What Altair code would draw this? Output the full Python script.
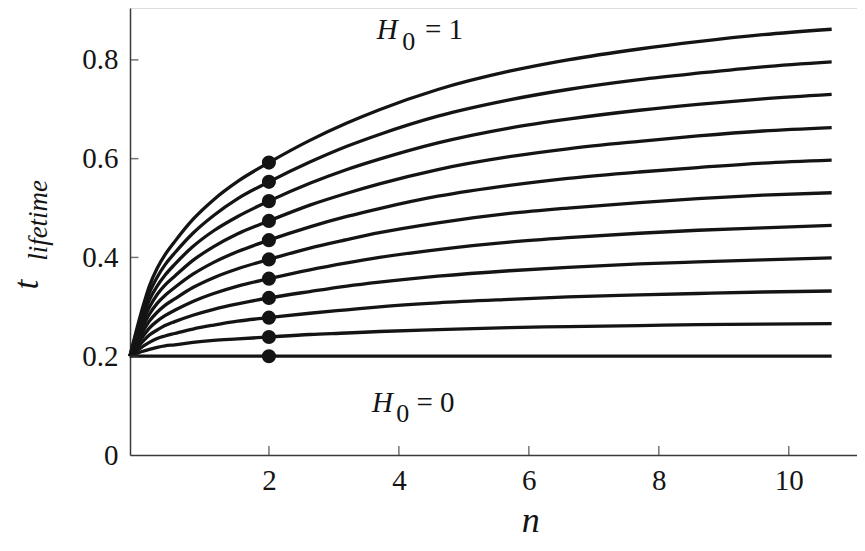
import altair as alt
import pandas as pd

# ---- data ----
n_vals = [-0.14, 0.06, 0.16, 0.28, 0.40, 0.55, 0.83, 1.15, 1.52, 2.0,
          2.63, 3.2, 3.7, 4.6, 5.7, 6.6, 7.7, 8.6, 9.6, 10.66]

H0_values = [0.0, 0.1, 0.2, 0.3, 0.4, 0.5, 0.6, 0.7, 0.8, 0.9, 1.0]

t_H00 = [0.200] * 20
t_H01 = [0.200, 0.210, 0.214, 0.218, 0.221, 0.223, 0.228, 0.232, 0.235, 0.239,
         0.244, 0.247, 0.250, 0.254, 0.258, 0.260, 0.262, 0.264, 0.265, 0.266]
t_H02 = [0.200, 0.220, 0.228, 0.236, 0.241, 0.246, 0.255, 0.263, 0.271, 0.278,
         0.287, 0.294, 0.300, 0.308, 0.315, 0.320, 0.324, 0.327, 0.330, 0.332]
t_H03 = [0.200, 0.230, 0.243, 0.253, 0.262, 0.270, 0.283, 0.295, 0.306, 0.318,
         0.331, 0.342, 0.350, 0.362, 0.373, 0.380, 0.387, 0.391, 0.395, 0.399]
t_H04 = [0.200, 0.240, 0.257, 0.271, 0.282, 0.293, 0.311, 0.327, 0.342, 0.357,
         0.375, 0.389, 0.400, 0.416, 0.431, 0.440, 0.449, 0.455, 0.460, 0.465]
t_H05 = [0.200, 0.250, 0.271, 0.289, 0.303, 0.316, 0.339, 0.359, 0.377, 0.396,
         0.419, 0.436, 0.450, 0.470, 0.489, 0.500, 0.511, 0.519, 0.526, 0.531]
t_H06 = [0.200, 0.260, 0.285, 0.307, 0.323, 0.339, 0.366, 0.390, 0.412, 0.435,
         0.462, 0.483, 0.499, 0.524, 0.546, 0.560, 0.573, 0.582, 0.591, 0.597]
t_H07 = [0.200, 0.270, 0.299, 0.325, 0.344, 0.362, 0.394, 0.422, 0.448, 0.474,
         0.506, 0.530, 0.549, 0.578, 0.604, 0.620, 0.635, 0.646, 0.656, 0.663]
t_H08 = [0.200, 0.280, 0.314, 0.342, 0.364, 0.386, 0.422, 0.454, 0.483, 0.514,
         0.550, 0.578, 0.599, 0.632, 0.662, 0.680, 0.698, 0.710, 0.721, 0.730]
t_H09 = [0.200, 0.290, 0.328, 0.360, 0.385, 0.409, 0.449, 0.485, 0.519, 0.553,
         0.593, 0.625, 0.649, 0.686, 0.719, 0.740, 0.760, 0.773, 0.786, 0.796]
t_H10 = [0.200, 0.300, 0.342, 0.378, 0.405, 0.432, 0.477, 0.517, 0.554, 0.592,
         0.637, 0.672, 0.699, 0.740, 0.777, 0.800, 0.822, 0.837, 0.851, 0.862]

curves = [t_H00, t_H01, t_H02, t_H03, t_H04, t_H05, t_H06, t_H07, t_H08, t_H09, t_H10]

dot_n = [2.0] * 11
dot_t = [0.200, 0.239, 0.278, 0.318, 0.357, 0.396, 0.435, 0.474, 0.514, 0.553, 0.592]

x_ticks = [2, 4, 6, 8, 10]
y_ticks = [0, 0.2, 0.4, 0.6, 0.8]

# annotations (text, n, t)
ann_italic = {"text": ["H", "H"], "n": [3.66, 3.585], "t": [0.842, 0.087]}
ann_sub = {"text": ["0", "0"], "n": [4.05, 3.96], "t": [0.820, 0.066]}
ann_plain = {"text": ["= 1", "= 0"], "n": [4.40, 4.27], "t": [0.842, 0.087]}
xtitle = {"text": ["n"], "n": [6.03], "t": [-0.156]}
ytitle_main = {"text": ["t"], "n": [-1.56], "t": [0.345]}
ytitle_sub = {"text": ["lifetime"], "n": [-1.42], "t": [0.475]}

# ---- build tables ----
rows = []
for h, ts in zip(H0_values, curves):
    for n, t in zip(n_vals, ts):
        rows.append({"H0": h, "n": n, "t": t})
df_lines = pd.DataFrame(rows)
df_dots = pd.DataFrame({"n": dot_n, "t": dot_t})

FONT = "Liberation Serif, Times New Roman, Times, serif"
INK = "#141414"
AXC = "#3a3a3a"

x_scale = alt.Scale(domain=[-0.138, 11.05], nice=False, zero=False)
y_scale = alt.Scale(domain=[0, 0.905], nice=False, zero=False)

x_axis = alt.Axis(values=x_ticks, format="d", tickSize=0, labelFont=FONT, labelFontSize=29,
                  labelColor=INK, labelPadding=11, domainColor=AXC, domainWidth=1.5,
                  grid=False, title=None, labelFlush=False)
y_axis = alt.Axis(values=y_ticks, tickSize=0, labelFont=FONT, labelFontSize=29,
                  labelColor=INK, labelPadding=12, domainColor=AXC, domainWidth=1.5,
                  grid=False, title=None,
                  labelExpr="datum.value == 0 ? '0' : format(datum.value, '.1f')")

lines = alt.Chart(df_lines).mark_line(
    color=INK, strokeWidth=3.3, interpolate="monotone", strokeCap="butt"
).encode(
    x=alt.X("n:Q", scale=x_scale, axis=x_axis),
    y=alt.Y("t:Q", scale=y_scale, axis=y_axis),
    detail="H0:N",
)

dots = alt.Chart(df_dots).mark_circle(color=INK, opacity=1, size=200).encode(
    x=alt.X("n:Q", scale=x_scale, title=None),
    y=alt.Y("t:Q", scale=y_scale, title=None),
)

xt = alt.Chart(pd.DataFrame({"v": x_ticks})).mark_tick(
    orient="vertical", size=18, thickness=1.5, color=AXC, clip=True
).encode(
    x=alt.X("v:Q", scale=x_scale, title=None),
    y=alt.datum(0),
)

yt = alt.Chart(pd.DataFrame({"v": [v for v in y_ticks if v > 0]})).mark_tick(
    orient="horizontal", size=17, thickness=1.5, color=AXC, clip=True
).encode(
    y=alt.Y("v:Q", scale=y_scale, title=None),
    x=alt.datum(-0.138),
)


def text_layer(d, **kw):
    return alt.Chart(pd.DataFrame(d)).mark_text(font=FONT, color=INK, **kw).encode(
        x=alt.X("n:Q", scale=x_scale, title=None),
        y=alt.Y("t:Q", scale=y_scale, title=None),
        text="text:N",
    )


t_it = text_layer(ann_italic, fontSize=29, fontStyle="italic", align="left", baseline="alphabetic")
t_sub = text_layer(ann_sub, fontSize=26, align="left", baseline="alphabetic")
t_pl = text_layer(ann_plain, fontSize=29, align="left", baseline="alphabetic")
t_xt = text_layer(xtitle, fontSize=36, fontStyle="italic", align="center", baseline="alphabetic")
t_yt = text_layer(ytitle_main, fontSize=35, fontStyle="italic", align="center",
                  baseline="alphabetic", angle=270)
t_ys = text_layer(ytitle_sub, fontSize=27, fontStyle="italic", align="center",
                  baseline="alphabetic", angle=270)

chart = alt.layer(lines, dots, xt, yt, t_it, t_sub, t_pl, t_xt, t_yt, t_ys).properties(
    width=727, height=447,
    autosize=alt.AutoSizeParams(type="none"),
    padding={"left": 122, "top": 0, "right": 0, "bottom": 88},
).configure_view(stroke=None).configure(background="white")

chart.save("out.html", embed_options={"renderer": "svg", "actions": False})
